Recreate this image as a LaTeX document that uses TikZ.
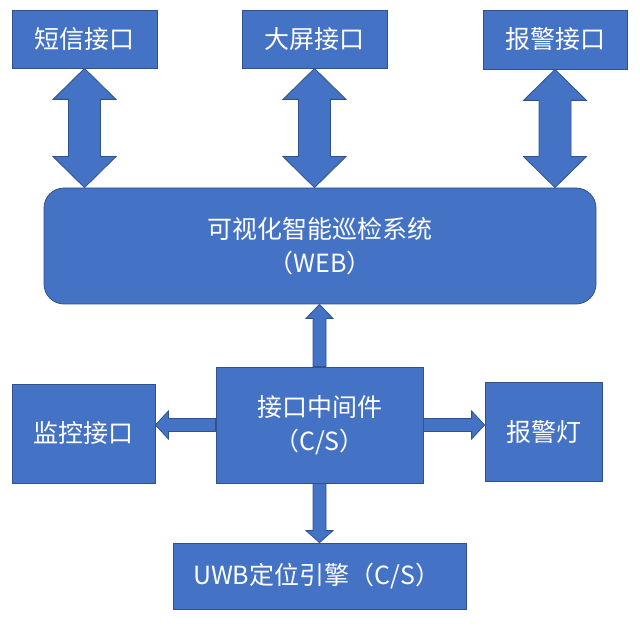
\documentclass[tikz,border=0pt]{standalone}
\usepackage{fontspec}
\setmainfont{Noto Sans CJK SC}
\usetikzlibrary{positioning}
\definecolor{boxblue}{HTML}{4472C4}
\definecolor{edgeblue}{HTML}{2F528F}

\begin{document}
\begin{tikzpicture}[x=1pt,y=1pt,
  box/.style={draw=edgeblue,fill=boxblue,line width=0.8pt,text=white,
    font=\fontsize{25}{34}\selectfont,align=center,inner sep=0pt},
  blk/.style={draw=edgeblue,fill=boxblue,line width=0.8pt,line join=miter}]
  \useasboundingbox (0,0) rectangle (640,-628);
  % interfaces on top
  \node[box,minimum width=145pt,minimum height=58pt] (sms) at (84.5,-39) {短信接口};
  \node[box,minimum width=145pt,minimum height=58pt] (screen) at (314.5,-39) {大屏接口};
  \node[box,minimum width=144pt,minimum height=59pt] (alarm) at (555,-39.5) {报警接口};
  \node[box,minimum width=552pt,minimum height=116pt,rounded corners=20pt] (web) at (320,-246)
    {可视化智能巡检系统\\（WEB）};
  % middleware and the rest
  \node[box,minimum width=207pt,minimum height=116pt] (mw) at (319.5,-425) {接口中间件\\（C/S）};
  \node[box,minimum width=143pt,minimum height=99pt] (mon) at (83.5,-433.5) {监控接口};
  \node[box,minimum width=117pt,minimum height=99pt] (lamp) at (543.5,-431.5) {报警灯};
  \node[box,minimum width=293pt,minimum height=66pt,text width=253pt,align=left,inner xsep=20pt]
    (uwb) at (319.5,-576) {UWB定位引擎（C/S）};
  % double arrows
  \foreach \n in {sms,screen,alarm}{
    \draw[blk] (\n.south) -- ++(31.5,-31) -- ++(-15.5,0)
      -- ([xshift=16pt,yshift=31pt]\n.south |- web.north) -- ++(15.5,0)
      -- (\n.south |- web.north) -- ++(-31.5,31) -- ++(15.5,0)
      -- ([xshift=-16pt,yshift=-31pt]\n.south) -- ++(-15.5,0) -- cycle;
  }
  % single arrows
  \draw[blk] ([xshift=-6.5pt]mw.north) -- ([xshift=-6.5pt,yshift=-14pt]mw.north |- web.south)
    -- ++(-7,0) -- (mw.north |- web.south) -- ++(13.5,-14) -- ++(-7,0)
    -- ([xshift=6.5pt]mw.north) -- cycle;
  \draw[blk] ([xshift=-6.5pt]mw.south) -- ([xshift=-6.5pt,yshift=12pt]mw.south |- uwb.north)
    -- ++(-7,0) -- (mw.south |- uwb.north) -- ++(13.5,12) -- ++(-7,0)
    -- ([xshift=6.5pt]mw.south) -- cycle;
  \draw[blk] ([yshift=6.5pt]mw.west) -- ([xshift=13pt,yshift=6.5pt]mon.east |- mw.west)
    -- ++(0,7.5) -- (mon.east |- mw.west) -- ++(13,-14) -- ++(0,7.5)
    -- ([yshift=-6.5pt]mw.west) -- cycle;
  \draw[blk] ([yshift=6.5pt]mw.east) -- ([xshift=-13pt,yshift=6.5pt]lamp.west |- mw.east)
    -- ++(0,7.5) -- (lamp.west |- mw.east) -- ++(-13,-14) -- ++(0,7.5)
    -- ([yshift=-6.5pt]mw.east) -- cycle;
\end{tikzpicture}
\end{document}
